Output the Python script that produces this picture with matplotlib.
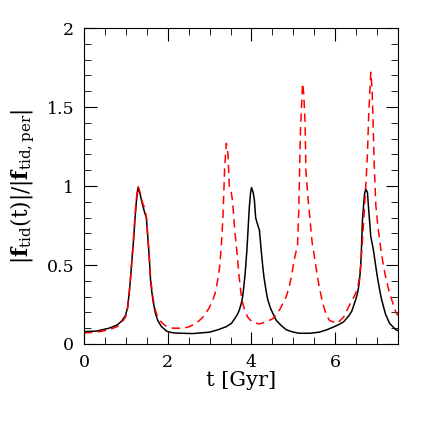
import numpy as np
import matplotlib.pyplot as plt
from matplotlib.ticker import MultipleLocator

# =========================
# DATA
# =========================
t_black = [0.0, 0.3, 0.6, 0.79, 0.9, 0.99, 1.04, 1.07, 1.1, 1.13, 1.16, 1.19, 1.22, 1.25,
           1.29, 1.34, 1.39, 1.45, 1.49, 1.54, 1.57, 1.59, 1.62, 1.65, 1.71, 1.76, 1.85,
           1.98, 2.1, 2.2, 2.6, 3.0, 3.2, 3.4, 3.52, 3.6, 3.67, 3.71, 3.76, 3.79, 3.82,
           3.85, 3.89, 3.92, 3.95, 3.98, 4.0, 4.04, 4.07, 4.1, 4.13, 4.19, 4.23, 4.27,
           4.3, 4.33, 4.36, 4.39, 4.45, 4.5, 4.59, 4.7, 4.83, 5.0, 5.14, 5.4, 5.62,
           5.8, 5.98, 6.1, 6.2, 6.33, 6.4, 6.45, 6.5, 6.54, 6.57, 6.6, 6.62, 6.65, 6.7,
           6.73, 6.77, 6.8, 6.85, 6.91, 6.97, 7.01, 7.05, 7.1, 7.15, 7.2, 7.3, 7.45, 7.5]
f_black = [0.078, 0.082, 0.10, 0.12, 0.145, 0.18, 0.23, 0.30, 0.38, 0.48, 0.58, 0.68, 0.80, 0.90,
           0.99, 0.95, 0.89, 0.83, 0.80, 0.62, 0.50, 0.40, 0.33, 0.27, 0.19, 0.15, 0.11,
           0.08, 0.072, 0.069, 0.066, 0.075, 0.09, 0.11, 0.13, 0.16, 0.19, 0.215, 0.26, 0.30, 0.37,
           0.45, 0.59, 0.73, 0.87, 0.96, 0.99, 0.96, 0.91, 0.80, 0.77, 0.72, 0.60, 0.49,
           0.42, 0.37, 0.32, 0.28, 0.23, 0.20, 0.15, 0.12, 0.09, 0.075, 0.068, 0.068, 0.075,
           0.09, 0.11, 0.125, 0.14, 0.18, 0.21, 0.25, 0.29, 0.33, 0.38, 0.46, 0.55, 0.78, 0.95,
           0.98, 0.96, 0.85, 0.68, 0.60, 0.49, 0.42, 0.36, 0.29, 0.24, 0.19, 0.13, 0.09, 0.085]

t_red = [0.0, 0.3, 0.6, 0.79, 0.9, 0.99, 1.04, 1.07, 1.1, 1.13, 1.16, 1.19, 1.22, 1.25,
         1.29, 1.34, 1.39, 1.45, 1.49, 1.54, 1.57, 1.59, 1.62, 1.65, 1.71, 1.76, 1.81,
         1.9, 1.98, 2.13, 2.38, 2.52, 2.7, 2.84, 2.97, 3.03, 3.08, 3.13, 3.17, 3.21,
         3.24, 3.28, 3.32, 3.36, 3.4, 3.44, 3.47, 3.51, 3.55, 3.6, 3.65, 3.7, 3.75, 3.79,
         3.83, 3.91, 3.98, 4.05, 4.19, 4.35, 4.51, 4.68, 4.83, 4.9, 4.95, 5.02, 5.06,
         5.1, 5.13, 5.17, 5.22, 5.25, 5.28, 5.3, 5.35, 5.38, 5.45, 5.5, 5.54, 5.58,
         5.62, 5.66, 5.7, 5.78, 5.86, 6.05, 6.2, 6.33, 6.45, 6.52, 6.57, 6.61, 6.65,
         6.69, 6.73, 6.77, 6.8, 6.85, 6.88, 6.9, 6.93, 6.97, 7.01, 7.05, 7.1, 7.15,
         7.2, 7.27, 7.35, 7.45, 7.5]
f_red = [0.07, 0.075, 0.09, 0.11, 0.135, 0.17, 0.22, 0.30, 0.38, 0.48, 0.59, 0.70, 0.82, 0.92,
         1.0, 0.96, 0.90, 0.86, 0.80, 0.62, 0.51, 0.42, 0.35, 0.29, 0.21, 0.17, 0.15,
         0.125, 0.11, 0.10, 0.10, 0.11, 0.135, 0.17, 0.22, 0.25, 0.28, 0.32, 0.37, 0.43,
         0.49, 0.62, 0.81, 1.12, 1.27, 1.20, 1.0, 0.975, 0.90, 0.72, 0.59, 0.44, 0.32, 0.26,
         0.22, 0.17, 0.15, 0.135, 0.127, 0.14, 0.16, 0.22, 0.30, 0.36, 0.42, 0.53, 0.58,
         0.62, 0.85, 1.35, 1.65, 1.58, 1.40, 1.10, 0.92, 0.84, 0.64, 0.56, 0.49, 0.42,
         0.36, 0.31, 0.26, 0.19, 0.15, 0.13, 0.17, 0.24, 0.30, 0.34, 0.40, 0.50, 0.65,
         0.82, 1.0, 1.2, 1.45, 1.72, 1.62, 1.45, 1.15, 0.88, 0.77, 0.68, 0.58, 0.50,
         0.43, 0.35, 0.28, 0.20, 0.18]

# =========================
# PLOT
# =========================
plt.rcParams['font.family'] = 'DejaVu Serif'
plt.rcParams['mathtext.fontset'] = 'dejavuserif'

fig = plt.figure(figsize=(4.36, 4.24), dpi=100)
ax = fig.add_axes([84/436, 80/424, 314/436, 316/424])

ax.plot(t_black, f_black, color='black', lw=1.1)
ax.plot(t_red, f_red, color='red', lw=1.1, linestyle=(0, (5.5, 3.5)))

ax.set_xlim(0, 7.5)
ax.set_ylim(0, 2)
ax.xaxis.set_major_locator(MultipleLocator(2))
ax.xaxis.set_minor_locator(MultipleLocator(0.5))
ax.yaxis.set_major_locator(MultipleLocator(0.5))
ax.yaxis.set_minor_locator(MultipleLocator(0.1))
ax.yaxis.set_major_formatter(plt.FuncFormatter(lambda v, p: '%g' % v))
ax.tick_params(which='both', direction='in', top=True, right=True, labelsize=12.5)
ax.tick_params(which='major', length=9, pad=7)
ax.tick_params(which='minor', length=5)

ax.set_xlabel('t [Gyr]', fontsize=15, labelpad=0)
ax.set_ylabel(r'$|\mathbf{f}_{\rm tid}(\rm t)|/|\mathbf{f}_{\rm tid,per}|$', fontsize=15.5, labelpad=7)

fig.savefig('out.png', dpi=100)
